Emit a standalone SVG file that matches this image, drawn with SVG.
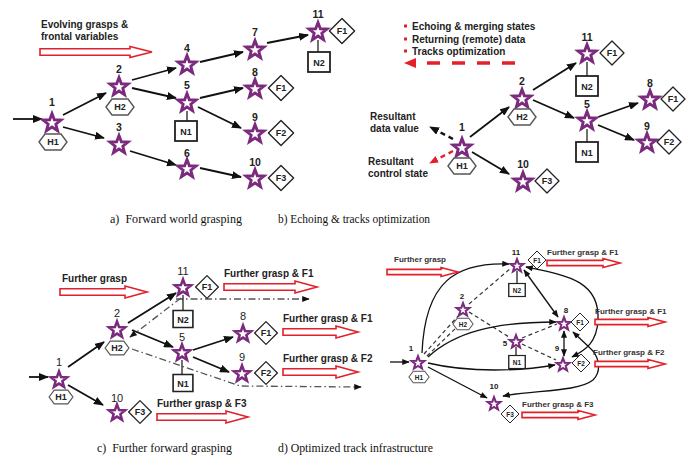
<svg xmlns="http://www.w3.org/2000/svg" xmlns:xlink="http://www.w3.org/1999/xlink" width="699" height="457" viewBox="0 0 699 457">
<style>
.t{font-family:"Liberation Sans",Arial,sans-serif;font-weight:bold;font-size:10px;fill:#222}
.td{font-family:"Liberation Sans",Arial,sans-serif;font-weight:bold;font-size:8px;fill:#333}
.n{font-family:"Liberation Sans",Arial,sans-serif;font-weight:bold;font-size:10.5px;fill:#222;text-anchor:middle}
.nc{font-family:"Liberation Sans",Arial,sans-serif;font-size:11px;fill:#222;text-anchor:middle}
.nd{font-family:"Liberation Sans",Arial,sans-serif;font-weight:bold;font-size:8px;fill:#222;text-anchor:middle}
.s{font-family:"Liberation Sans",Arial,sans-serif;font-weight:bold;font-size:9px;fill:#222;text-anchor:middle}
.sd{font-family:"Liberation Sans",Arial,sans-serif;font-weight:bold;font-size:6.5px;fill:#222;text-anchor:middle}
.cap{font-family:"Liberation Serif","Times New Roman",serif;font-size:12.5px;fill:#111}
.ln{fill:none;stroke:#111;stroke-width:1.8}
.lnd{fill:none;stroke:#111;stroke-width:1.3}
.dash{fill:none;stroke:#333;stroke-width:1.2;stroke-dasharray:4,3}
.dd{fill:none;stroke:#555;stroke-width:1.3;stroke-dasharray:7,3,1.5,3}
.stem{stroke:#222;stroke-width:1.3}
.ra{fill:#fff;stroke:#e3202a;stroke-width:1.6}
</style>
<defs>
<path id="st" d="M0,-10 L2.47,-3.4 L9.51,-3.09 L3.99,1.3 L5.88,8.09 L0,4.2 L-5.88,8.09 L-3.99,1.3 L-9.51,-3.09 L-2.47,-3.4 Z" fill="#fff" stroke="#7b2a7e" stroke-width="3"/>
<path id="hx" d="M-14,0 L-8,-8 L8,-8 L14,0 L8,8 L-8,8 Z" fill="#fff" stroke="#555" stroke-width="1.4"/>
<rect id="bx" x="-11" y="-10" width="22" height="20" fill="#fff" stroke="#222" stroke-width="1.8"/>
<path id="dm" d="M0,-12 L12,0 L0,12 L-12,0 Z" fill="#fff" stroke="#222" stroke-width="1.3" stroke-linejoin="round"/>
<marker id="ah" viewBox="0 0 10 8" refX="9" refY="4" markerWidth="10" markerHeight="8" markerUnits="userSpaceOnUse" orient="auto-start-reverse"><path d="M0,0 L10,4 L0,8 Z" fill="#111"/></marker>
<marker id="ahs" viewBox="0 0 10 8" refX="9" refY="4" markerWidth="8" markerHeight="6" markerUnits="userSpaceOnUse" orient="auto-start-reverse"><path d="M0,0 L10,4 L0,8 Z" fill="#111"/></marker>
<marker id="ahr" viewBox="0 0 10 8" refX="9" refY="4" markerWidth="9" markerHeight="8" markerUnits="userSpaceOnUse" orient="auto"><path d="M0,0 L10,4 L0,8 Z" fill="#e3202a"/></marker>
</defs>

<g id="connectors">
<!-- panel a -->
<path class="ln" marker-end="url(#ah)" d="M13,119 L42,119"/>
<path class="ln" marker-end="url(#ah)" d="M63,115 L106,93"/>
<path class="ln" marker-end="url(#ah)" d="M63,127 L104,138"/>
<path class="ln" marker-end="url(#ah)" d="M132,80 L176,68"/>
<path class="ln" marker-end="url(#ah)" d="M132,88 L176,98"/>
<path class="ln" marker-end="url(#ah)" d="M130,151 L176,165"/>
<path class="ln" marker-end="url(#ah)" d="M200,62 L243,52"/>
<path class="ln" marker-end="url(#ah)" d="M200,98 L243,88"/>
<path class="ln" marker-end="url(#ah)" d="M198,107 L241,128"/>
<path class="ln" marker-end="url(#ah)" d="M200,168 L241,177"/>
<path class="ln" marker-end="url(#ah)" d="M267,43 L308,35"/>
<!-- panel b -->
<path class="ln" marker-end="url(#ah)" d="M470,137 L509,107"/>
<path class="ln" marker-end="url(#ah)" d="M472,152 L509,174"/>
<path class="ln" marker-end="url(#ah)" d="M533,90 L576,63"/>
<path class="ln" marker-end="url(#ah)" d="M533,100 L574,118"/>
<path class="ln" marker-end="url(#ah)" d="M598,117 L638,103"/>
<path class="ln" marker-end="url(#ah)" d="M598,125 L634,140"/>
<path fill="none" stroke="#111" stroke-width="2.4" stroke-dasharray="5,4" marker-end="url(#ah)" d="M453,139 L430,127"/>
<path fill="none" stroke="#e3202a" stroke-width="2.4" stroke-dasharray="5,4" marker-end="url(#ahr)" d="M453,151 L430,163"/>
<path fill="none" stroke="#e3202a" stroke-width="3.5" stroke-dasharray="13,12" d="M515,63 L416,63"/>
<path fill="#e3202a" d="M404,63 L416,58 L416,68 Z"/>
<!-- panel c -->
<path class="ln" marker-end="url(#ah)" d="M29,377 L48,377"/>
<path class="ln" marker-end="url(#ah)" d="M68,367 L104,342"/>
<path class="ln" marker-end="url(#ah)" d="M68,385 L103,405"/>
<path class="ln" marker-end="url(#ah)" d="M128,323 L176,293"/>
<path class="ln" marker-end="url(#ah)" d="M132,330 L173,347"/>
<path class="ln" marker-end="url(#ah)" d="M193,350 L233,337"/>
<path class="ln" marker-end="url(#ah)" d="M193,357 L229,372"/>
<path class="dd" marker-end="url(#ahs)" d="M181,298 L130,337"/>
<path class="dd" marker-end="url(#ahs)" d="M176,299 L309,299"/>
<path class="dd" marker-end="url(#ahs)" d="M132,349 L240,386 L361,387"/>
<!-- panel d -->
<path class="lnd" marker-end="url(#ahs)" d="M390,362 L409,362"/>
<path class="dash" d="M424,354 L459,315"/>
<path class="dash" d="M427,356 L458,326"/>
<path class="dash" d="M469,304 L511,268"/>
<path class="dash" d="M469,312 L509,337"/>
<path class="dash" d="M522,338 L557,324"/>
<path class="dash" d="M522,344 L556,360"/>
<path class="lnd" marker-end="url(#ahs)" d="M422,353 C425,282 455,262 509,264"/>
<path class="lnd" marker-end="url(#ahs)" d="M428,357 C455,332 495,322 556,322"/>
<path class="lnd" marker-end="url(#ahs)" d="M428,363 C470,373 520,371 555,365"/>
<path class="lnd" marker-end="url(#ahs)" d="M428,367 L487,398"/>
<path class="lnd" marker-start="url(#ahs)" marker-end="url(#ahs)" d="M524,270 L558,317"/>
<path class="lnd" marker-start="url(#ahs)" marker-end="url(#ahs)" d="M564,331 L564,356"/>
<path class="lnd" marker-start="url(#ahs)" marker-end="url(#ahs)" d="M526,267 C565,275 600,280 598,320 C597,342 586,350 572,357"/>
<path class="lnd" marker-start="url(#ahs)" marker-end="url(#ahs)" d="M503,396 C535,390 578,392 593,380 C603,370 598,355 590,348 L573,332"/>
</g>

<g id="labels">
<text class="t" x="41" y="27.5">Evolving grasps &amp;</text>
<text class="t" x="41" y="39.5">frontal variables</text>
<path class="ra" d="M40,48.8 L130,48.8 L130,46.5 L152,52 L130,57.5 L130,55.2 L40,55.2 Z"/>

<rect x="404" y="24.5" width="3" height="3" fill="#e3202a"/>
<rect x="404" y="37.5" width="3" height="3" fill="#e3202a"/>
<rect x="404" y="49.5" width="3" height="3" fill="#e3202a"/>
<text class="t" x="412" y="29.5">Echoing &amp; merging states</text>
<text class="t" x="412" y="42.5">Returning (remote) data</text>
<text class="t" x="412" y="54.5">Tracks optimization</text>
<text class="t" x="370" y="119.5">Resultant</text>
<text class="t" x="370" y="131.5">data value</text>
<text class="t" x="368" y="164.5">Resultant</text>
<text class="t" x="368" y="176.5">control state</text>

<text class="t" x="62" y="281.5">Further grasp</text>
<path class="ra" d="M60,288.7 L125,288.7 L125,286 L147,292 L125,298 L125,295.3 L60,295.3 Z"/>
<text class="t" x="224" y="276.5">Further grasp &amp; F1</text>
<path class="ra" d="M224,283.7 L295,283.7 L295,281 L317,287 L295,293 L295,290.3 L224,290.3 Z"/>
<text class="t" x="283" y="321.5">Further grasp &amp; F1</text>
<path class="ra" d="M283,328.7 L336,328.7 L336,326 L358,332 L336,338 L336,335.3 L283,335.3 Z"/>
<text class="t" x="283" y="361.5">Further grasp &amp; F2</text>
<path class="ra" d="M283,368.7 L336,368.7 L336,366 L358,372 L336,378 L336,375.3 L283,375.3 Z"/>
<text class="t" x="157" y="406.5">Further grasp &amp; F3</text>
<path class="ra" d="M157,413.7 L226,413.7 L226,411 L248,417 L226,423 L226,420.3 L157,420.3 Z"/>

<text class="td" x="394" y="262">Further grasp</text>
<path class="ra" d="M387,269.4 L441,269.4 L441,267.5 L458,272 L441,276.5 L441,274.6 L387,274.6 Z"/>
<text class="td" x="547" y="255">Further grasp &amp; F1</text>
<path class="ra" d="M547,260.4 L603,260.4 L603,258.5 L620,263 L603,267.5 L603,265.6 L547,265.6 Z"/>
<text class="td" x="595" y="314">Further grasp &amp; F1</text>
<path class="ra" d="M595,319.4 L648,319.4 L648,317.5 L665,322 L648,326.5 L648,324.6 L595,324.6 Z"/>
<text class="td" x="593" y="355">Further grasp &amp; F2</text>
<path class="ra" d="M595,361.4 L648,361.4 L648,359.5 L665,364 L648,368.5 L648,366.6 L595,366.6 Z"/>
<text class="td" x="522" y="407">Further grasp &amp; F3</text>
<path class="ra" d="M522,412.4 L578,412.4 L578,410.5 L595,415 L578,419.5 L578,417.6 L522,417.6 Z"/>

<text class="cap" x="110" y="223" textLength="132" lengthAdjust="spacingAndGlyphs" xml:space="preserve">a)  Forward world grasping</text>
<text class="cap" x="278" y="223" textLength="152" lengthAdjust="spacingAndGlyphs">b) Echoing &amp; tracks optimization</text>
<text class="cap" x="97" y="452" textLength="135" lengthAdjust="spacingAndGlyphs" xml:space="preserve">c)  Further forward grasping</text>
<text class="cap" x="278" y="452" textLength="155" lengthAdjust="spacingAndGlyphs">d) Optimized track infrastructure</text>
</g>

<!-- panel a nodes -->
<g id="a1"><use xlink:href="#st" transform="translate(52,123) scale(0.95)"/><text class="n" x="52" y="106">1</text><use xlink:href="#hx" transform="translate(53,142)"/><text class="s" x="53" y="145">H1</text></g>
<g id="a2"><use xlink:href="#st" transform="translate(119,87) scale(0.95)"/><text class="n" x="119" y="73">2</text><use xlink:href="#hx" transform="translate(120,107)"/><text class="s" x="120" y="110">H2</text></g>
<g id="a3"><use xlink:href="#st" transform="translate(119,145) scale(0.95)"/><text class="n" x="119" y="131">3</text></g>
<g id="a4"><use xlink:href="#st" transform="translate(187,65) scale(0.95)"/><text class="n" x="187" y="52">4</text></g>
<g id="a5"><use xlink:href="#st" transform="translate(187,103) scale(0.95)"/><text class="n" x="187" y="89">5</text><line class="stem" x1="187" y1="111" x2="187" y2="121"/><use xlink:href="#bx" transform="translate(186,131)"/><text class="s" x="186" y="134.5">N1</text></g>
<g id="a6"><use xlink:href="#st" transform="translate(187,169) scale(0.95)"/><text class="n" x="187" y="157">6</text></g>
<g id="a7"><use xlink:href="#st" transform="translate(255,50) scale(0.95)"/><text class="n" x="255" y="36">7</text></g>
<g id="a8"><use xlink:href="#st" transform="translate(255,89) scale(0.95)"/><text class="n" x="255" y="76">8</text><use xlink:href="#dm" transform="translate(281,88) scale(1.05)"/><text class="s" x="281" y="91">F1</text></g>
<g id="a9"><use xlink:href="#st" transform="translate(255,134) scale(0.95)"/><text class="n" x="255" y="121">9</text><use xlink:href="#dm" transform="translate(281,133) scale(1.05)"/><text class="s" x="281" y="136">F2</text></g>
<g id="a10"><use xlink:href="#st" transform="translate(255,179) scale(0.95)"/><text class="n" x="255" y="166">10</text><use xlink:href="#dm" transform="translate(281,178) scale(1.05)"/><text class="s" x="281" y="181">F3</text></g>
<g id="a11"><use xlink:href="#st" transform="translate(318,32) scale(0.95)"/><text class="n" x="318" y="18">11</text><use xlink:href="#dm" transform="translate(342,31) scale(1.05)"/><text class="s" x="342" y="34">F1</text><line class="stem" x1="318" y1="40" x2="318" y2="52"/><use xlink:href="#bx" transform="translate(319,62)"/><text class="s" x="319" y="65.5">N2</text></g>

<!-- panel b nodes -->
<g id="b1"><use xlink:href="#st" transform="translate(462,148) scale(0.95)"/><text class="n" x="462" y="131">1</text><use xlink:href="#hx" transform="translate(462,166)"/><text class="s" x="462" y="169">H1</text></g>
<g id="b2"><use xlink:href="#st" transform="translate(522,99) scale(0.95)"/><text class="n" x="522" y="85">2</text><use xlink:href="#hx" transform="translate(522,117)"/><text class="s" x="522" y="120">H2</text></g>
<g id="b11"><use xlink:href="#st" transform="translate(587,54) scale(0.95)"/><text class="n" x="587" y="41">11</text><use xlink:href="#dm" transform="translate(612,53)"/><text class="s" x="612" y="56">F1</text><line class="stem" x1="587" y1="62" x2="587" y2="76"/><use xlink:href="#bx" transform="translate(587,86)"/><text class="s" x="587" y="89.5">N2</text></g>
<g id="b5"><use xlink:href="#st" transform="translate(587,121) scale(0.95)"/><text class="n" x="587" y="108">5</text><line class="stem" x1="587" y1="129" x2="587" y2="142"/><use xlink:href="#bx" transform="translate(587,152)"/><text class="s" x="587" y="155.5">N1</text></g>
<g id="b8"><use xlink:href="#st" transform="translate(650,100) scale(0.95)"/><text class="n" x="650" y="87">8</text><use xlink:href="#dm" transform="translate(673,99)"/><text class="s" x="673" y="102">F1</text></g>
<g id="b9"><use xlink:href="#st" transform="translate(647,143) scale(0.95)"/><text class="n" x="647" y="130">9</text><use xlink:href="#dm" transform="translate(669,142)"/><text class="s" x="669" y="145">F2</text></g>
<g id="b10"><use xlink:href="#st" transform="translate(523,182) scale(0.95)"/><text class="n" x="523" y="168">10</text><use xlink:href="#dm" transform="translate(547,181)"/><text class="s" x="547" y="184">F3</text></g>

<!-- panel c nodes -->
<g id="c1"><use xlink:href="#st" transform="translate(59,380) scale(0.85)"/><text class="nc" x="59" y="366">1</text><use xlink:href="#hx" transform="translate(61,397) scale(0.85)"/><text class="s" x="61" y="400">H1</text></g>
<g id="c2"><use xlink:href="#st" transform="translate(117,330) scale(0.85)"/><text class="nc" x="117" y="317">2</text><use xlink:href="#hx" transform="translate(117,348) scale(0.85)"/><text class="s" x="117" y="351">H2</text></g>
<g id="c11"><use xlink:href="#st" transform="translate(183,288) scale(0.85)"/><text class="nc" x="183" y="275">11</text><use xlink:href="#dm" transform="translate(207,287) scale(0.95)"/><text class="s" x="207" y="290">F1</text><line class="stem" x1="183" y1="295" x2="183" y2="310"/><use xlink:href="#bx" transform="translate(183,319) scale(0.9,0.85)"/><text class="s" x="183" y="322.5">N2</text></g>
<g id="c5"><use xlink:href="#st" transform="translate(182,353) scale(0.85)"/><text class="nc" x="182" y="341">5</text><line class="stem" x1="182" y1="360" x2="182" y2="374"/><use xlink:href="#bx" transform="translate(183,383) scale(0.9,0.85)"/><text class="s" x="183" y="386.5">N1</text></g>
<g id="c8"><use xlink:href="#st" transform="translate(243,334) scale(0.85)"/><text class="nc" x="243" y="320">8</text><use xlink:href="#dm" transform="translate(266,333) scale(0.95)"/><text class="s" x="266" y="336">F1</text></g>
<g id="c9"><use xlink:href="#st" transform="translate(242,374) scale(0.85)"/><text class="nc" x="242" y="361">9</text><use xlink:href="#dm" transform="translate(266,373) scale(0.95)"/><text class="s" x="266" y="376">F2</text></g>
<g id="c10"><use xlink:href="#st" transform="translate(117,413) scale(0.85)"/><text class="nc" x="117" y="402">10</text><use xlink:href="#dm" transform="translate(140,412) scale(0.95)"/><text class="s" x="140" y="415">F3</text></g>

<!-- panel d nodes -->
<g id="d1"><use xlink:href="#st" transform="translate(418,363) scale(0.68)"/><text class="nd" x="411" y="351">1</text><use xlink:href="#hx" transform="translate(419,377) scale(0.72)"/><text class="sd" x="419" y="379.5">H1</text></g>
<g id="d2"><use xlink:href="#st" transform="translate(463,310) scale(0.68)"/><text class="nd" x="462" y="299">2</text><use xlink:href="#hx" transform="translate(463,324) scale(0.72)"/><text class="sd" x="463" y="326.5">H2</text></g>
<g id="d11"><use xlink:href="#st" transform="translate(517,266) scale(0.68)"/><text class="nd" x="516" y="255">11</text><use xlink:href="#dm" transform="translate(537,260) scale(0.75)"/><text class="sd" x="537" y="262.5">F1</text><line class="stem" x1="517" y1="271" x2="517" y2="284"/><use xlink:href="#bx" transform="translate(517,290) scale(0.75,0.65)"/><text class="sd" x="517" y="292.5">N2</text></g>
<g id="d5"><use xlink:href="#st" transform="translate(516,342) scale(0.68)"/><text class="nd" x="505" y="346">5</text><line class="stem" x1="516" y1="347" x2="516" y2="356"/><use xlink:href="#bx" transform="translate(517,362) scale(0.75,0.65)"/><text class="sd" x="517" y="364.5">N1</text></g>
<g id="d8"><use xlink:href="#st" transform="translate(564,324) scale(0.68)"/><text class="nd" x="566" y="313">8</text><use xlink:href="#dm" transform="translate(580,322) scale(0.75)"/><text class="sd" x="580" y="324.5">F1</text></g>
<g id="d9"><use xlink:href="#st" transform="translate(563,365) scale(0.68)"/><text class="nd" x="557" y="351">9</text><use xlink:href="#dm" transform="translate(581,363) scale(0.75)"/><text class="sd" x="581" y="365.5">F2</text></g>
<g id="d10"><use xlink:href="#st" transform="translate(494,404) scale(0.68)"/><text class="nd" x="494" y="389">10</text><use xlink:href="#dm" transform="translate(510,414) scale(0.75)"/><text class="sd" x="510" y="416.5">F3</text></g>
</svg>
